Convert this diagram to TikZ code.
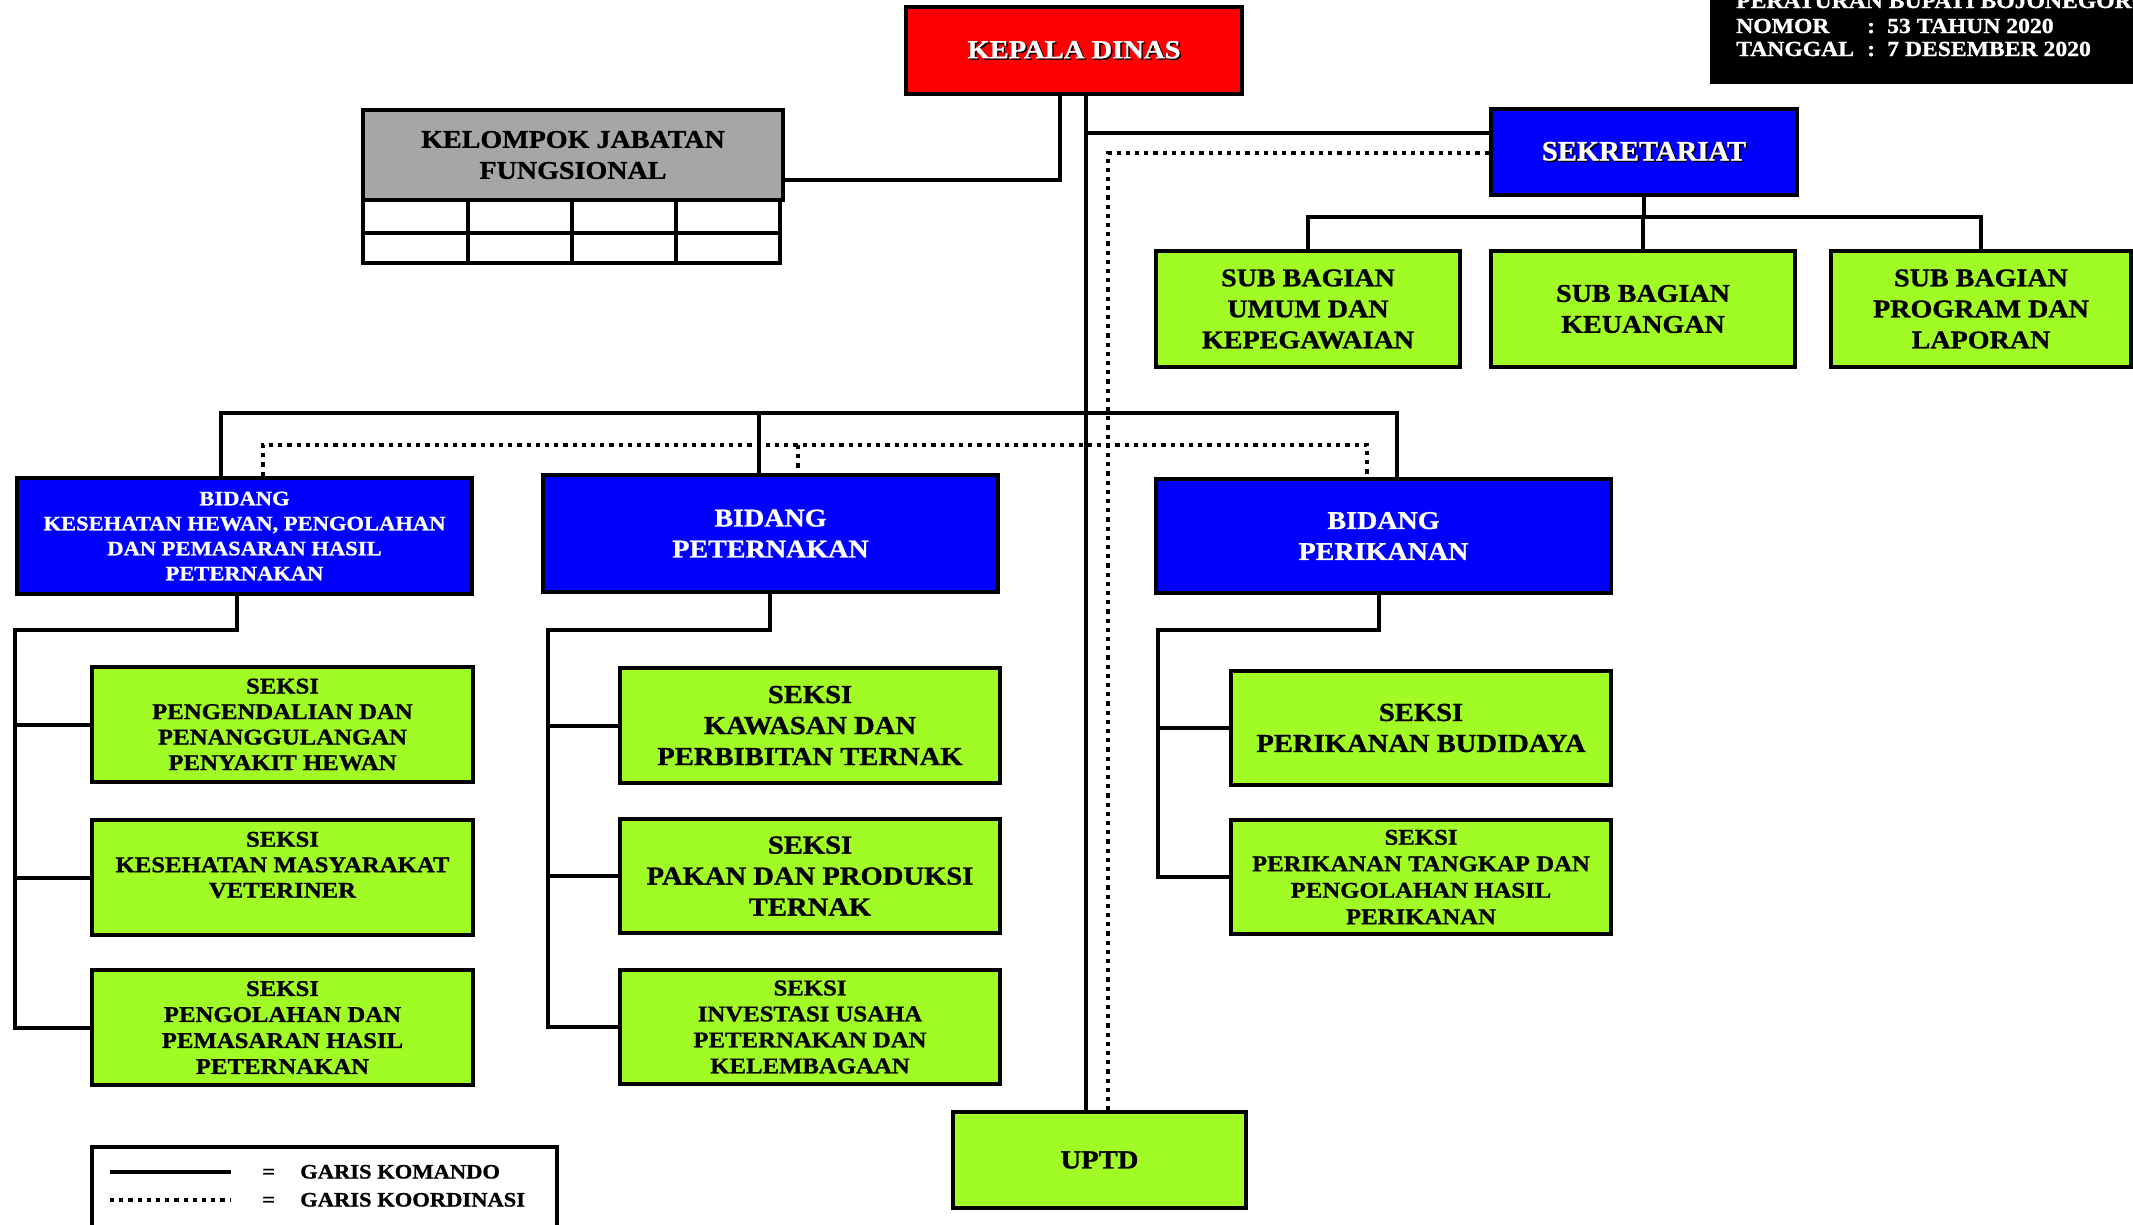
\documentclass[tikz,border=0pt]{standalone}
\usepackage{fontspec}
\setmainfont{Liberation Serif}[FakeStretch=1.1, BoldFeatures={FakeBold=1}]
\usepackage{graphicx}
\definecolor{limegr}{RGB}{161,251,36}
\definecolor{pureblue}{RGB}{0,0,255}
\definecolor{purered}{RGB}{255,0,0}
\definecolor{grayfill}{RGB}{166,166,166}
\newcommand{\myfs}[2]{\fontsize{#1}{#2}\selectfont\bfseries}
\newcommand{\shadowtext}[1]{\makebox[0pt][l]{\hspace{1.5pt}\raisebox{-1.5pt}{\color{black}#1}}#1}
\pgfdeclarelayer{bg}
\pgfsetlayers{bg,main}
\tikzset{
  box/.style={draw=black, line width=4.5pt, rectangle, align=center, inner sep=0pt},
  gbox/.style={box, fill=limegr, text=black},
  bbox/.style={box, fill=pureblue, text=white},
  cmd/.style={line width=4pt},
  koord/.style={line width=4.2pt, dash pattern=on 4.2pt off 5pt},
  hdtext/.style={text=white, anchor=base west, inner sep=0pt, font=\myfs{21.5}{24}},
  legtext/.style={anchor=base west, inner sep=0pt, font=\myfs{20.5}{22}},
}
\begin{document}
\begin{tikzpicture}[x=1pt, y=-1pt]
\useasboundingbox (0,0) rectangle (2133,1224);

% header block
\fill[black] (1710,-20) rectangle (2150,84);
\node[hdtext] (hd0) at (1736,8) {PERATURAN BUPATI BOJONEGORO};
\node[hdtext] (hd1) at (1736,33) {NOMOR};
\node[hdtext] (hd1c) at (1867,33) {:};
\node[hdtext] (hd1v) at (1887,33) {53 TAHUN 2020};
\node[hdtext] (hd2) at (1736,56) {TANGGAL};
\node[hdtext] (hd2c) at (1867,56) {:};
\node[hdtext] (hd2v) at (1887,56) {7 DESEMBER 2020};

% top level
\node[box, fill=purered, text=white, minimum width=336, minimum height=87, font=\myfs{26}{28}] (kd) at (1074,50.5) {\raisebox{-2pt}{\shadowtext{KEPALA DINAS}}};
\node[box, fill=grayfill, minimum width=420, minimum height=90, font=\myfs{25.5}{31}] (kjf) at (573,155) {KELOMPOK JABATAN\\FUNGSIONAL};
\draw[line width=4pt] (363,200) rectangle (780,263);
\draw[line width=4pt] (363,233) -- (780,233);
\foreach \cx in {468,572,676} \draw[line width=4pt] (\cx,200) -- (\cx,263);

\node[bbox, minimum width=306, minimum height=86, font=\myfs{28}{32}] (sek) at (1644,152) {\scalebox{0.93}[1]{\shadowtext{SEKRETARIAT}}};

\node[gbox, minimum width=304, minimum height=116, font=\myfs{25.5}{31}] (sb1) at (1308,309) {SUB BAGIAN\\UMUM DAN\\KEPEGAWAIAN};
\node[gbox, minimum width=304, minimum height=116, font=\myfs{25.5}{31}] (sb2) at (1643,309) {SUB BAGIAN\\KEUANGAN};
\node[gbox, minimum width=300, minimum height=116, font=\myfs{25.5}{31}] (sb3) at (1981,309) {SUB BAGIAN\\PROGRAM DAN\\LAPORAN};

% bidang
\node[bbox, minimum width=455, minimum height=116, font=\myfs{20.5}{25}] (b1) at (244.5,536) {BIDANG\\KESEHATAN HEWAN, PENGOLAHAN\\DAN PEMASARAN HASIL\\PETERNAKAN};
\node[bbox, minimum width=455, minimum height=117, font=\myfs{25.5}{31}] (b2) at (770.5,533.5) {BIDANG\\PETERNAKAN};
\node[bbox, minimum width=455, minimum height=114, font=\myfs{25.5}{31}] (b3) at (1383.5,536) {BIDANG\\PERIKANAN};

% seksi
\node[gbox, minimum width=381, minimum height=115, font=\myfs{22.5}{25.5}] (s11) at (282.5,724.5) {SEKSI\\PENGENDALIAN DAN\\PENANGGULANGAN\\PENYAKIT HEWAN};
\node[gbox, minimum width=381, minimum height=115, font=\myfs{22.5}{25.5}] (s12) at (282.5,877.5) {SEKSI\\KESEHATAN MASYARAKAT\\VETERINER\\~};
\node[gbox, minimum width=381, minimum height=115, font=\myfs{22.5}{26}] (s13) at (282.5,1027.5) {SEKSI\\PENGOLAHAN DAN\\PEMASARAN HASIL\\PETERNAKAN};

\node[gbox, minimum width=380, minimum height=115, font=\myfs{26}{31}] (s21) at (810,725.5) {SEKSI\\KAWASAN DAN\\PERBIBITAN TERNAK};
\node[gbox, minimum width=380, minimum height=114, font=\myfs{26}{31}] (s22) at (810,876) {SEKSI\\PAKAN DAN PRODUKSI\\TERNAK};
\node[gbox, minimum width=380, minimum height=114, font=\myfs{22.5}{26}] (s23) at (810,1027) {SEKSI\\INVESTASI USAHA\\PETERNAKAN DAN\\KELEMBAGAAN};

\node[gbox, minimum width=380, minimum height=114, font=\myfs{26}{31}] (s31) at (1421,728) {SEKSI\\PERIKANAN BUDIDAYA};
\node[gbox, minimum width=380, minimum height=114, font=\myfs{22.5}{26.5}] (s32) at (1421,877) {SEKSI\\PERIKANAN TANGKAP DAN\\PENGOLAHAN HASIL\\PERIKANAN};

\node[gbox, minimum width=293, minimum height=96, font=\myfs{26}{31}] (uptd) at (1099.5,1160) {UPTD};

% legend
\node[draw=black, line width=4pt, minimum width=465, minimum height=100, anchor=north west, inner sep=0pt] (leg) at (90,1145) {};
\coordinate (lga) at (110,1172);
\coordinate (lgb) at (231,1172);
\coordinate (lgc) at (110,1200);
\coordinate (lgd) at (231,1200);
\draw[line width=4.5pt] (lga) -- (lgb);
\draw[koord] (lgc) -- (lgd);
\node[legtext] (eq1) at (262,1178.5) {=};
\node[legtext] (eq2) at (262,1206.5) {=};
\node[legtext] (lt1) at (300,1178.5) {GARIS KOMANDO};
\node[legtext] (lt2) at (300,1206.5) {GARIS KOORDINASI};

% connectors
\begin{pgfonlayer}{bg}
\fill[white] (0,0) rectangle (2133,1224);
\coordinate (j1) at (1060,180);
\coordinate (tr) at (1086,0);
\coordinate (js) at (1086,133);
\coordinate (dc) at (1108,153);
\coordinate (hs) at (0,217);
\draw[cmd] (kd.south -| j1) -- (j1) -- (kjf.east |- j1);
\draw[cmd] (kd.south -| tr) -- (uptd.north -| tr);
\draw[cmd] (js) -- (sek.west |- js);
\draw[koord] (sek.west |- dc) -- (dc) -- (uptd.north -| dc);
\draw[cmd] (sek.south) -- (sek.south |- hs);
\draw[cmd] (sb1.north) -- (sb1.north |- hs) -- (sb3.north |- hs) -- (sb3.north);
\draw[cmd] (sb2.north) -- (sb2.north |- hs);

\coordinate (bb1) at (221,413);
\coordinate (bb2) at (759,413);
\coordinate (bb3) at (1397,413);
\draw[cmd] (b1.north -| bb1) -- (bb1) -- (bb3) -- (b3.north -| bb3);
\draw[cmd] (bb2) -- (b2.north -| bb2);
\coordinate (kb1) at (263,445);
\coordinate (kb2) at (798,445);
\coordinate (kb3) at (1367,445);
\draw[koord] (b1.north -| kb1) -- (kb1) -- (kb3) -- (b3.north -| kb3);
\draw[koord] (kb2) -- (b2.north -| kb2);

\coordinate (d1) at (237,630);
\coordinate (l1) at (15,630);
\draw[cmd] (b1.south -| d1) -- (d1) -- (l1) -- (l1 |- s13.west) -- (s13.west);
\draw[cmd] (l1 |- s11.west) -- (s11.west);
\draw[cmd] (l1 |- s12.west) -- (s12.west);

\coordinate (d2) at (770,630);
\coordinate (l2) at (548,630);
\draw[cmd] (b2.south -| d2) -- (d2) -- (l2) -- (l2 |- s23.west) -- (s23.west);
\draw[cmd] (l2 |- s21.west) -- (s21.west);
\draw[cmd] (l2 |- s22.west) -- (s22.west);

\coordinate (d3) at (1379,630);
\coordinate (l3) at (1158,630);
\draw[cmd] (b3.south -| d3) -- (d3) -- (l3) -- (l3 |- s32.west) -- (s32.west);
\draw[cmd] (l3 |- s31.west) -- (s31.west);
\end{pgfonlayer}
\end{tikzpicture}
\end{document}
